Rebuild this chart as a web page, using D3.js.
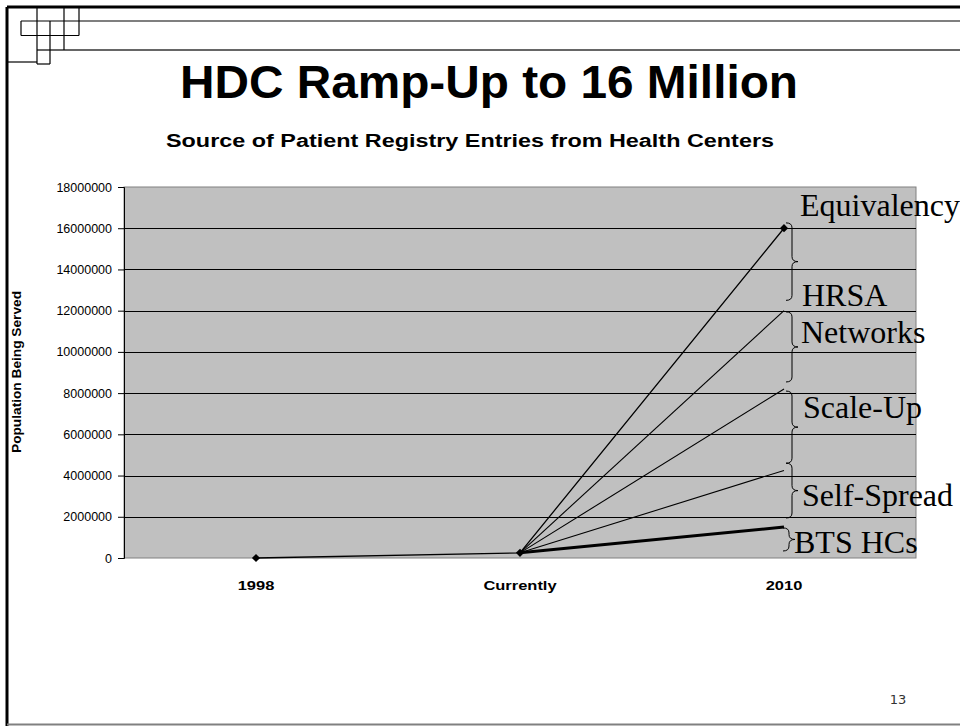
<!DOCTYPE html>
<html><head><meta charset="utf-8">
<script src="https://cdn.jsdelivr.net/npm/d3@7"></script>
<style>body{margin:0;background:#fff}svg{display:block}</style>
</head><body>
<script>
const categories = ["1998", "Currently", "2010"];
const mainValues = [0, 250000, 16000000];           // Equivalency path (with markers)
const branchNames = ["HRSA Networks", "Scale-Up", "Self-Spread", "BTS HCs"];
const branchStart = [250000, 250000, 250000, 250000]; // at "Currently"
const branchEnd = [12000000, 8200000, 4250000, 1500000]; // at "2010"
const yTicks = [0, 2000000, 4000000, 6000000, 8000000, 10000000, 12000000, 14000000, 16000000, 18000000];
const braceTop = [16260000, 11940000, 8100000, 4600000, 1460000];
const braceBottom = [12500000, 8540000, 4600000, 1940000, 340000];

const W = 960, H = 726;
const svg = d3.select("body").append("svg").attr("width", W).attr("height", H);
const SANS = "Liberation Sans, Arial, sans-serif";

// slide frame decoration
const fr = svg.append("g").attr("fill", "none");
fr.append("line").attr("x1", 7).attr("y1", 7).attr("x2", 960).attr("y2", 7).attr("stroke", "#000").attr("stroke-width", 3);
fr.append("line").attr("x1", 7).attr("y1", 7).attr("x2", 7).attr("y2", 726).attr("stroke", "#000").attr("stroke-width", 3);
fr.append("line").attr("x1", 7).attr("y1", 724.5).attr("x2", 960).attr("y2", 724.5).attr("stroke", "#808080").attr("stroke-width", 2);
const thin = [
  [21, 21, 960, 21], [21, 35.5, 79, 35.5], [37, 50, 960, 50], [7, 62, 37, 62], [37, 64, 50, 64],
  [37, 7, 37, 64], [50, 21, 50, 64], [64, 7, 64, 50], [79, 7, 79, 35.5], [21, 21, 21, 35.5]
];
thin.forEach(l => fr.append("line").attr("x1", l[0]).attr("y1", l[1]).attr("x2", l[2]).attr("y2", l[3])
  .attr("stroke", l[1] === 50 && l[3] === 50 ? "#666" : "#000").attr("stroke-width", l[1] === 50 && l[3] === 50 ? 1.8 : 1.2));

// titles
svg.append("text").attr("x", 489).attr("y", 98).attr("text-anchor", "middle")
  .attr("font-family", SANS).attr("font-weight", "bold").attr("font-size", 46)
  .attr("textLength", 618).attr("lengthAdjust", "spacingAndGlyphs")
  .text("HDC Ramp-Up to 16 Million");
svg.append("text").attr("x", 470).attr("y", 147).attr("text-anchor", "middle")
  .attr("font-family", SANS).attr("font-weight", "bold").attr("font-size", 17.5)
  .attr("textLength", 608).attr("lengthAdjust", "spacingAndGlyphs")
  .text("Source of Patient Registry Entries from Health Centers");

// chart
const L = 124, R = 916, T = 187, B = 558;
const x = d3.scaleBand().domain(categories).range([L, R]);
const y = d3.scaleLinear().domain([0, 18000000]).range([B, T]);
const cx = c => x(c) + x.bandwidth() / 2;

svg.append("rect").attr("x", L).attr("y", T).attr("width", R - L).attr("height", B - T)
  .attr("fill", "#c0c0c0").attr("stroke", "#808080").attr("stroke-width", 1);

svg.append("g").selectAll("line").data(yTicks.filter(d => d > 0 && d < 18000000)).join("line")
  .attr("x1", L).attr("x2", R).attr("y1", d => Math.round(y(d)) + 0.5).attr("y2", d => Math.round(y(d)) + 0.5)
  .attr("stroke", "#000").attr("stroke-width", 1);

const yAxis = svg.append("g").attr("transform", `translate(${L},0)`)
  .call(d3.axisLeft(y).tickValues(yTicks).tickSize(6).tickPadding(6).tickFormat(d3.format("d")));
yAxis.select(".domain").attr("stroke", "#000");
yAxis.selectAll("line").attr("stroke", "#000");
yAxis.selectAll("text").attr("font-family", SANS).attr("font-size", 12.5).attr("fill", "#000");

const xAxis = svg.append("g").attr("transform", `translate(0,${B})`)
  .call(d3.axisBottom(x).tickSize(0).tickPadding(22));
xAxis.select(".domain").remove();
xAxis.selectAll("text").attr("font-family", SANS).attr("font-size", 13.5)
  .attr("font-weight", "bold").attr("fill", "#000")
  .each(function () {
    const w = this.getComputedTextLength();
    d3.select(this).attr("textLength", w * 1.22).attr("lengthAdjust", "spacingAndGlyphs");
  });

svg.append("text").attr("transform", `translate(21,372) rotate(-90)`).attr("text-anchor", "middle")
  .attr("font-family", SANS).attr("font-weight", "bold").attr("font-size", 13)
  .attr("textLength", 162).attr("lengthAdjust", "spacingAndGlyphs")
  .text("Population Being Served");

// branch lines
branchNames.forEach((n, i) => {
  svg.append("line").attr("x1", cx("Currently")).attr("y1", y(branchStart[i]))
    .attr("x2", cx("2010")).attr("y2", y(branchEnd[i]))
    .attr("stroke", "#000").attr("stroke-width", n === "BTS HCs" ? 3 : 1.1);
});

// main series
const line = d3.line().x((d, i) => cx(categories[i])).y(d => y(d));
svg.append("path").datum(mainValues).attr("d", line).attr("fill", "none").attr("stroke", "#000").attr("stroke-width", 1.3);
svg.append("g").selectAll("path").data(mainValues).join("path")
  .attr("transform", (d, i) => `translate(${cx(categories[i])},${y(d)}) rotate(45)`)
  .attr("d", d3.symbol(d3.symbolSquare, 34)).attr("fill", "#000");

// braces
const bx = cx("2010") + 8;
function brace(x0, y0, y1, w, tip) {
  const ym = (y0 + y1) / 2, r = Math.min(5, (y1 - y0) / 4);
  return `M${x0 - w},${y0} Q${x0},${y0} ${x0},${y0 + r} L${x0},${ym - r} Q${x0},${ym} ${x0 + tip},${ym}` +
    ` Q${x0},${ym} ${x0},${ym + r} L${x0},${y1 - r} Q${x0},${y1} ${x0 - w},${y1}`;
}
braceTop.forEach((t, i) => {
  const last = i === braceTop.length - 1;
  svg.append("path").attr("d", brace(last ? bx - 3 : bx, y(t), y(braceBottom[i]), 6, 6))
    .attr("fill", "none").attr("stroke", "#000").attr("stroke-width", 1);
});

// labels
const lab = (t, xx, yy) => svg.append("text").attr("x", xx).attr("y", yy)
  .attr("font-family", "Liberation Serif, Times New Roman, serif").attr("font-size", 32).attr("fill", "#000").text(t);
lab("Equivalency", bx + 8, y(braceTop[0]) - 7);
lab("HRSA", bx + 10, y(braceBottom[0]) + 6);
lab("Networks", bx + 9, y(braceTop[1]) + 31);
lab("Scale-Up", bx + 11, y(braceTop[2]) + 27);
lab("Self-Spread", bx + 10, y(braceBottom[3]) - 12);
lab("BTS HCs", bx + 2, y(braceBottom[4]) + 2);

// slide number
svg.append("text").attr("x", 898).attr("y", 704).attr("text-anchor", "middle")
  .attr("font-family", "DejaVu Sans, Verdana, sans-serif").attr("font-size", 13).attr("fill", "#333").text("13");
</script>
</body></html>
